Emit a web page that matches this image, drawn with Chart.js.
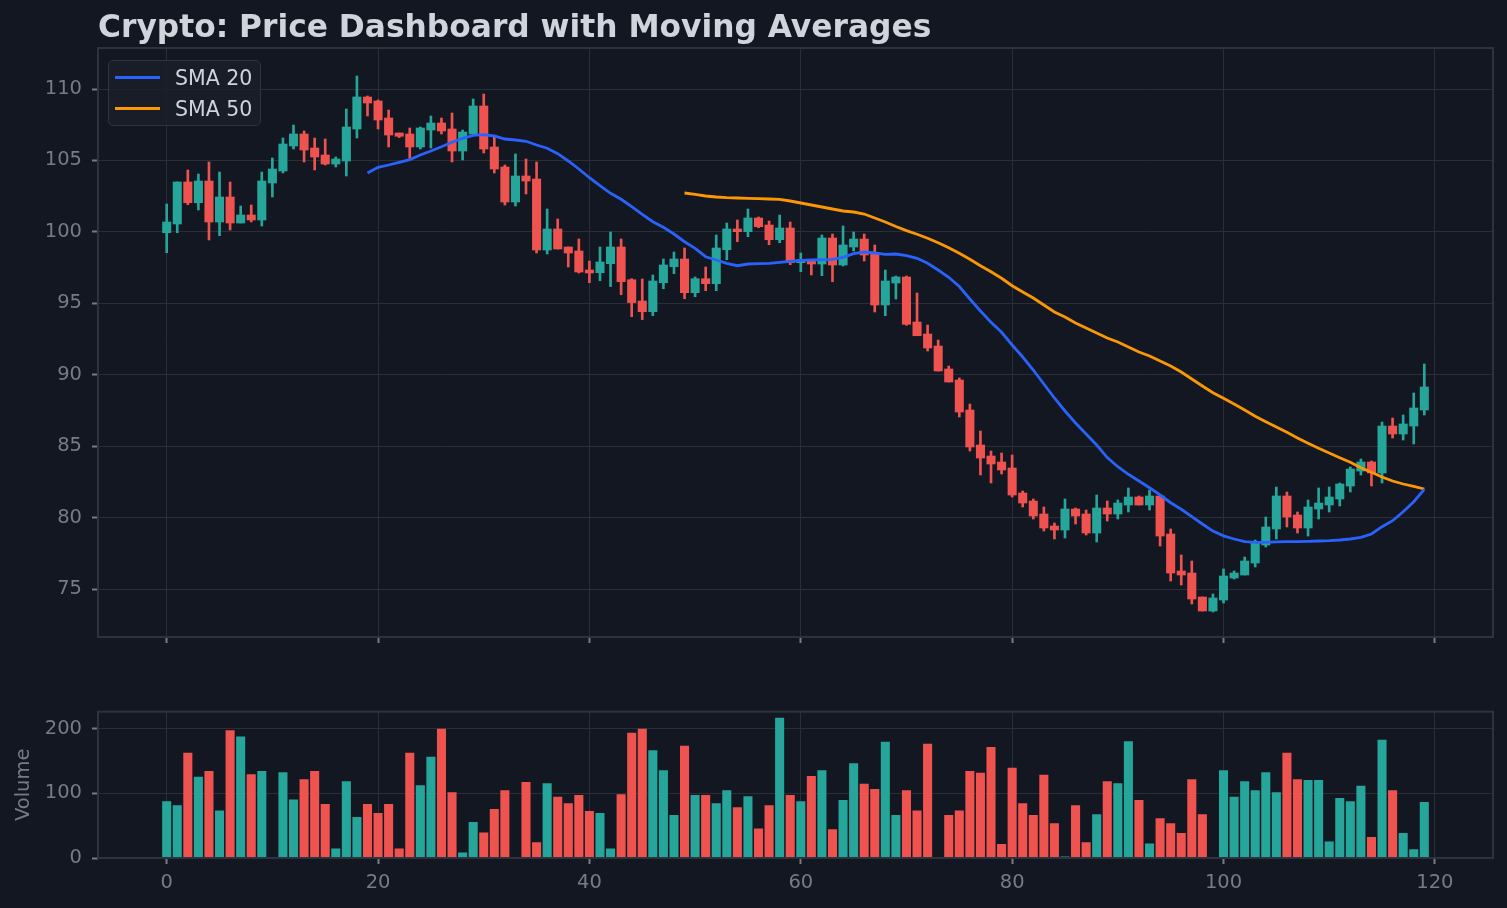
<!DOCTYPE html>
<html>
<head>
<meta charset="utf-8">
<title>Crypto: Price Dashboard with Moving Averages</title>
<script src="https://cdn.jsdelivr.net/npm/chart.js@4.4.1/dist/chart.umd.min.js"></script>
<style>
body{margin:0;background:#131722;width:1507px;height:908px;overflow:hidden;position:relative;font-family:"DejaVu Sans",sans-serif;}
#titlu{position:absolute;left:98px;top:11px;font-size:31.3px;line-height:31px;font-weight:bold;color:#d1d4dc;white-space:nowrap;z-index:2;}
#graficPret{position:absolute;left:0;top:0;}
#graficVolum{position:absolute;left:0;top:690px;}
#legenda{position:absolute;left:108px;top:60px;width:151px;height:64px;border:1px solid #2f3340;border-radius:5px;background:rgba(26,30,41,0.85);z-index:2;}
.linie{position:absolute;left:6px;width:45px;height:3px;}
.eticheta{position:absolute;left:66px;font-size:20.5px;line-height:20px;color:#d1d4dc;white-space:nowrap;}
</style>
</head>
<body>
<div id="titlu">Crypto: Price Dashboard with Moving Averages</div>
<canvas id="graficPret" width="1507" height="660"></canvas>
<canvas id="graficVolum" width="1507" height="218"></canvas>
<div id="legenda">
  <div class="linie" style="top:15px;background:#2962ff"></div><div class="eticheta" style="top:7px">SMA 20</div>
  <div class="linie" style="top:46px;background:#ff9800"></div><div class="eticheta" style="top:38px">SMA 50</div>
</div>
<script>
// Date lumanari
const opens = [99.94,100.55,103.49,102.04,103.56,100.69,102.44,100.62,101.18,100.83,
  103.42,104.26,106.01,106.85,105.87,105.38,104.75,104.96,107.20,109.44,
  109.16,107.97,106.92,106.85,105.94,107.13,107.62,107.20,105.66,106.85,
  108.81,105.94,104.54,102.09,103.91,103.70,98.73,100.20,98.94,98.66,
  97.33,97.14,97.77,98.94,96.65,95.16,94.41,96.44,97.56,98.10,
  95.74,96.72,96.37,98.75,100.20,100.01,100.97,100.48,99.45,100.27,
  97.84,98.03,97.75,99.57,97.68,98.94,99.50,98.52,94.88,96.42,
  96.84,93.69,92.85,92.01,90.40,89.63,87.53,85.08,84.31,83.89,
  83.47,81.72,81.16,80.25,79.41,79.13,80.60,80.25,78.92,80.67,
  80.25,80.88,81.44,80.88,81.51,78.85,76.26,76.12,74.44,73.46,
  74.23,75.77,75.98,76.82,78.08,79.20,81.51,80.18,79.27,80.60,
  80.88,81.30,82.21,83.26,83.89,83.12,86.41,85.85,86.41,87.53];
const highs = [101.95,103.50,104.33,104.05,104.89,104.19,103.49,101.81,101.88,104.19,
  105.17,106.57,107.48,107.06,106.57,106.50,105.24,108.60,110.91,109.51,
  109.23,108.53,106.92,107.27,107.34,108.11,107.97,108.32,107.13,109.30,
  109.65,106.64,104.68,105.45,105.10,104.89,101.60,100.90,98.94,99.50,
  97.96,98.94,99.99,99.50,96.72,96.70,96.98,98.10,98.59,98.87,
  96.84,97.54,99.78,100.62,100.83,101.60,101.04,100.76,101.18,100.69,
  98.52,98.03,99.78,99.85,100.41,99.99,99.85,99.08,97.33,96.91,
  96.91,95.72,93.48,92.43,90.61,89.77,87.95,86.06,84.66,84.52,
  84.38,81.86,81.30,80.74,79.62,81.30,80.67,80.53,81.58,81.16,
  81.23,82.07,81.51,81.93,81.51,79.20,77.38,76.96,74.44,74.65,
  76.40,76.26,77.24,78.43,80.04,82.14,81.79,80.39,81.23,82.07,
  82.14,82.42,83.54,84.10,83.96,86.69,86.97,87.18,88.72,90.75];
const lows = [98.54,99.94,101.90,101.53,99.43,99.73,100.13,100.62,100.69,100.41,
  102.44,104.12,105.80,104.89,104.33,104.68,104.54,103.91,106.57,108.11,
  107.20,105.94,106.60,105.15,105.80,105.87,106.85,104.89,105.03,106.78,
  105.52,104.12,101.88,101.81,102.65,98.52,98.45,98.80,97.54,97.12,
  96.44,96.58,96.17,95.60,94.06,93.86,94.13,96.02,97.07,95.32,
  95.46,95.88,95.88,98.05,99.31,99.66,100.29,99.10,99.24,97.70,
  97.21,96.98,96.93,96.51,97.61,98.66,97.96,94.39,94.13,95.30,
  93.46,92.73,91.66,90.26,89.49,87.04,84.66,82.98,82.42,83.05,
  81.44,80.74,79.90,79.06,78.50,78.57,79.55,78.78,78.29,79.76,
  79.90,80.39,80.88,80.53,78.01,75.56,75.28,73.95,73.46,73.39,
  74.02,75.70,75.98,76.54,77.94,78.50,79.34,78.92,78.71,79.90,
  80.39,80.81,81.79,82.98,82.21,82.42,85.57,85.43,85.15,87.18];
const closes = [100.69,103.49,102.04,103.56,100.69,102.44,100.62,101.18,100.83,103.56,
  104.40,106.15,106.85,105.73,105.24,104.75,105.10,107.34,109.44,109.02,
  107.83,106.78,106.69,105.94,107.27,107.62,107.06,105.66,106.99,108.81,
  105.80,104.40,102.09,103.91,103.56,98.73,100.20,98.80,98.52,97.19,
  97.12,97.89,98.94,96.51,95.05,94.41,96.56,97.68,98.10,95.74,
  96.72,96.37,98.87,100.20,100.01,100.97,100.36,99.45,100.27,97.84,
  98.05,97.75,99.57,97.68,99.08,99.50,98.38,94.88,96.56,96.84,
  93.53,92.73,91.87,90.26,89.49,87.39,84.94,84.17,83.75,83.33,
  81.58,81.02,80.11,79.27,79.13,80.60,80.11,78.92,80.67,80.25,
  81.02,81.44,80.88,81.51,78.71,76.12,75.98,74.30,73.46,74.37,
  75.91,76.12,76.96,78.22,79.34,81.51,80.04,79.27,80.74,81.02,
  81.44,82.35,83.40,83.89,83.12,86.41,85.85,86.55,87.67,89.14];
const volumes = [87,81,162,125,134,73,197,187,129,134,
  0,132,90,121,134,83,14,118,63,83,
  69,83,14,162,112,156,199,101,8,55,
  39,75,104,0,117,24,115,94,84,97,
  72,69,14,98,193,199,166,135,66,173,
  97,97,84,104,78,95,45,81,216,97,
  87,126,135,44,89,146,114,106,179,66,
  104,73,176,1,66,73,134,131,171,21,
  139,84,66,128,53,2,81,24,67,118,
  115,180,89,22,61,53,38,121,67,0,
  135,94,118,104,132,101,162,121,120,120,
  25,92,87,111,32,182,104,38,13,86];

// Medii mobile
const sma20Start = 19;
const sma20 = [104.12,104.52,104.68,104.87,105.06,105.38,105.66,105.96,106.27,106.55,
  106.76,106.80,106.71,106.50,106.43,106.34,106.08,105.85,105.47,104.96,
  104.40,103.79,103.23,102.70,102.28,101.76,101.23,100.71,100.32,99.85,
  99.31,98.85,98.26,98.03,97.80,97.63,97.75,97.77,97.80,97.87,
  97.94,98.00,98.03,98.05,98.08,98.22,98.47,98.59,98.52,98.43,
  98.45,98.33,98.15,97.80,97.33,96.82,96.17,95.30,94.46,93.67,
  92.97,92.08,91.24,90.33,89.35,88.37,87.46,86.62,85.85,85.08,
  84.20,83.56,83.03,82.56,82.09,81.58,81.04,80.58,80.06,79.55,
  79.05,78.72,78.50,78.32,78.27,78.27,78.30,78.32,78.32,78.34,
  78.36,78.38,78.43,78.50,78.62,78.85,79.36,79.78,80.41,81.11,81.98];
const sma50Start = 49;
const sma50 = [102.72,102.63,102.51,102.44,102.39,102.37,102.35,102.32,102.30,102.28,
  102.16,102.02,101.88,101.74,101.60,101.46,101.39,101.25,100.97,100.69,
  100.37,100.09,99.83,99.55,99.24,98.89,98.50,98.08,97.63,97.21,
  96.75,96.23,95.79,95.37,94.88,94.39,94.04,93.62,93.27,92.92,
  92.57,92.29,91.94,91.59,91.31,90.96,90.61,90.19,89.70,89.21,
  88.74,88.35,87.95,87.53,87.09,86.71,86.34,85.97,85.57,85.20,
  84.85,84.52,84.19,83.87,83.49,83.17,82.84,82.56,82.35,82.18,82.00];

// Etichete axe
const xTicks = [0,20,40,60,80,100,120];
const priceTicks = [75,80,85,90,95,100,105,110];
const volumeTicks = [0,100,200];

const verde = '#26a69a', rosu = '#ef5350', grila = '#2a2e39', gri = '#787b86';
const culoare = i => closes[i] >= opens[i] ? verde : rosu;
const idx = opens.map((_, i) => i);
const font = {family: 'DejaVu Sans', size: 19.5};

// Chenar in jurul zonei de desen
const chenar = {
  id: 'chenar',
  afterDraw(chart) {
    const a = chart.chartArea, c = chart.ctx;
    c.save();
    c.strokeStyle = '#2e323e';
    c.lineWidth = 2;
    c.strokeRect(a.left, a.top, a.right - a.left, a.bottom - a.top);
    c.restore();
  }
};

function axaX(cuEtichete, inaltime) {
  return {
    type: 'linear', min: -6.5, max: 125.5, offset: false,
    afterBuildTicks: s => { s.ticks = xTicks.map(v => ({value: v})); },
    afterFit: s => { s.height = inaltime; },
    grid: {offset: false, color: grila, lineWidth: 1, tickColor: gri, tickLength: 6, tickWidth: 2},
    border: {display: false},
    ticks: {display: cuEtichete, color: gri, font: font, padding: 7, maxRotation: 0}
  };
}

function axaY(min, max, valori, titlu) {
  return {
    min: min, max: max,
    afterBuildTicks: s => { s.ticks = valori.map(v => ({value: v})); },
    afterFit: s => { s.width = 98; },
    grid: {color: grila, lineWidth: 1, tickColor: gri, tickLength: 6, tickWidth: 2},
    border: {display: false},
    ticks: {color: gri, font: font, padding: 10},
    title: titlu ? {display: true, text: titlu, color: gri, font: font, padding: {top: 12, bottom: 0}} : {display: false}
  };
}

// Grafic pret
new Chart(document.getElementById('graficPret').getContext('2d'), {
  type: 'bar',
  data: {
    datasets: [
      {type: 'line', label: 'SMA 20', data: sma20.map((v, i) => ({x: sma20Start + i, y: v})), borderColor: '#2962ff', borderWidth: 2.8, pointRadius: 0, tension: 0, order: 0},
      {type: 'line', label: 'SMA 50', data: sma50.map((v, i) => ({x: sma50Start + i, y: v})), borderColor: '#ff9800', borderWidth: 2.8, pointRadius: 0, tension: 0, order: 0},
      {label: 'corp', data: idx.map(i => ({x: i, y: [opens[i], closes[i]]})), backgroundColor: ctx => culoare(ctx.dataIndex), barThickness: 8.4, grouped: false, minBarLength: 1, order: 1},
      {label: 'fitil', data: idx.map(i => ({x: i, y: [lows[i], highs[i]]})), backgroundColor: ctx => culoare(ctx.dataIndex), barThickness: 2, grouped: false, order: 2}
    ]
  },
  options: {
    responsive: false, animation: false,
    layout: {padding: {top: 48, right: 14, left: 0, bottom: 0}},
    plugins: {legend: {display: false}, tooltip: {enabled: false}},
    scales: {x: axaX(false, 23), y: axaY(71.64, 112.87, priceTicks)}
  },
  plugins: [chenar]
});

// Grafic volum
new Chart(document.getElementById('graficVolum').getContext('2d'), {
  type: 'bar',
  data: {
    datasets: [{label: 'Volume', data: idx.map(i => ({x: i, y: volumes[i]})), backgroundColor: ctx => culoare(ctx.dataIndex), barThickness: 8.4}]
  },
  options: {
    responsive: false, animation: false,
    layout: {padding: {top: 21, right: 14, left: 0, bottom: 0}},
    plugins: {legend: {display: false}, tooltip: {enabled: false}},
    scales: {x: axaX(true, 50), y: axaY(0, 226, volumeTicks, 'Volume')}
  },
  plugins: [chenar]
});
</script>
</body>
</html>
